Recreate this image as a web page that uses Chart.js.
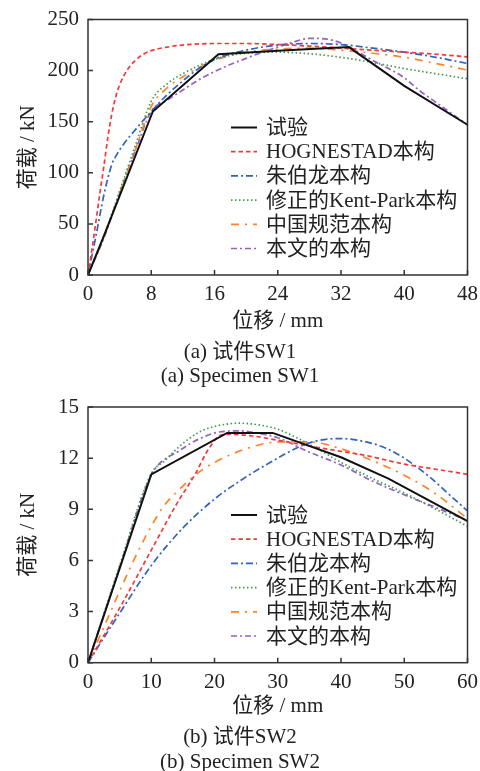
<!DOCTYPE html>
<html>
<head>
<meta charset="utf-8">
<script src="https://cdn.jsdelivr.net/npm/chart.js@4.4.1/dist/chart.umd.min.js"></script>
<style>
  body { margin: 0; background: #fff; }
  #wrap { position: relative; width: 480px; height: 771px; overflow: hidden; }
  canvas { position: absolute; left: 0; }
  .cap { position: absolute; left: 0; width: 480px; text-align: center; font-family: "Liberation Serif", "Noto Sans CJK SC", serif; font-size: 21px; color: #222; line-height: 24px; }
</style>
</head>
<body>
<div id="wrap">
  <canvas id="c1" width="480" height="340" style="top:0px"></canvas>
  <div class="cap" style="top:339px">(a) 试件SW1</div>
  <div class="cap" style="top:363px">(a) Specimen SW1</div>
  <canvas id="c2" width="480" height="340" style="top:388px"></canvas>
  <div class="cap" style="top:724px">(b) 试件SW2</div>
  <div class="cap" style="top:749px">(b) Specimen SW2</div>
</div>
<script>
// legend labels
var names = ["试验", "HOGNESTAD本构", "朱伯龙本构", "修正的Kent-Park本构", "中国规范本构", "本文的本构"];

// SW1: displacement (mm), load (kN)
var sw1Test = [[0,0],[2,38],[8.2,160],[16.5,216],[24,219.5],[33,223],[40,185],[48,147]];
var sw1Hog = [[0,0],[0.5,25],[1,52],[1.5,80],[2,106],[2.5,134],[3,157],[3.5,174],[4,186],[5,201],[6,210],[7,216],[8,219.5],[10,223],[12,225],[16,226.5],[20,226.5],[24,225.5],[28,224],[32,222],[36,220],[40,218],[44,216],[48,213.5]];
var sw1Zhu = [[0,0],[1,38],[2,78],[3,108],[3.5,116],[4.5,128],[6.3,145],[8,160],[9.7,174],[12,190],[14,202],[16,211],[20,220],[24,225],[28,226.5],[32,225.5],[36,222],[40,218],[44,213],[48,207]];
var sw1Kent = [[0,0],[2,38],[4,82],[6,127],[8,170],[10,187],[12,197],[16,211],[20,217],[24,218],[28,216.5],[32,213],[36,208],[40,202],[44,197],[48,192]];
var sw1Gb = [[0,0],[2,37],[4,80],[6,123],[8,165],[10,183],[12,194],[16,210],[20,218],[24,221],[28,222],[32,220],[36,217],[40,213],[44,207],[48,200.5]];
var sw1Ours = [[0,0],[2,36],[4,80],[6,122],[8,160],[10,171],[12,181],[14,191],[16,199],[18,206],[20,212],[22,218],[24,223],[26,228],[28,231.5],[30,231],[32,227],[34,219],[36,210],[38,202],[40,193],[42,180],[44,169],[46,158],[48,147]];

// SW2
var sw2Test = [[0,0],[10,11.05],[22,13.48],[29.2,13.48],[40,12.05],[47.5,10.8],[60,8.3]];
var sw2Hog = [[0,0],[5,3.2],[10,6.6],[14,9.3],[17,11.1],[19,12.5],[21,13.35],[22.5,13.4],[26,13.3],[30,13.05],[33,12.85],[36,12.65],[40,12.4],[44,12.15],[50,11.65],[55,11.35],[60,11.05]];
var sw2Zhu = [[0,0],[5,2.9],[10,5.7],[15,7.9],[20,9.6],[25,10.9],[30,12.0],[33,12.6],[36,13.0],[40,13.15],[44,12.95],[47,12.6],[50,12.0],[54,10.9],[57,9.9],[60,8.9]];
var sw2Kent = [[0,0],[5,5.7],[10,11.1],[12,11.8],[14.5,12.7],[17,13.4],[19,13.75],[22,14.0],[24,14.05],[27,13.95],[30,13.7],[33,13.2],[36,12.6],[40,11.75],[45,10.8],[50,9.95],[55,9.0],[60,8.0]];
var sw2Gb = [[0,0],[3,2.5],[5,4.2],[8,6.6],[10,8.0],[12,9.2],[14,10.0],[16,10.7],[18,11.3],[20,11.75],[25,12.55],[30,12.95],[35,12.95],[40,12.55],[45,11.85],[50,11.0],[55,9.9],[60,8.45]];
var sw2Ours = [[0,0],[5,5.6],[10,11.0],[14.5,12.45],[18,13.2],[21,13.55],[24,13.6],[27,13.45],[30,13.2],[35,12.35],[40,11.6],[45,10.65],[50,9.85],[55,9.1],[60,8.35]];

var colors = ["#111111", "#f23a3a", "#2e63c0", "#3f9a4f", "#ff8228", "#9462c0"];
var dashes = [[], [4.5,3], [7,3,2,3], [1.5,2.5], [8,6,2,6], [6,3,2,3]];
var serif = '"Liberation Serif", "Noto Sans CJK SC", serif';

function toXY(arr){ return arr.map(function(p){ return {x:p[0], y:p[1]}; }); }

// frame, inward tick marks and in-plot legend
var framePlugin = {
  id: 'frame',
  afterDatasetsDraw: function(chart){
    var ctx = chart.ctx, a = chart.chartArea;
    var xs = chart.scales.x, ys = chart.scales.y;
    ctx.save();
    ctx.strokeStyle = '#333';
    ctx.lineWidth = 1.5;
    ctx.strokeRect(a.left, a.top, a.right - a.left, a.bottom - a.top);
    ctx.beginPath();
    xs.ticks.forEach(function(t){
      var px = xs.getPixelForValue(t.value);
      ctx.moveTo(px, a.bottom); ctx.lineTo(px, a.bottom - 5);
    });
    ys.ticks.forEach(function(t){
      var py = ys.getPixelForValue(t.value);
      ctx.moveTo(a.left, py); ctx.lineTo(a.left + 5, py);
    });
    ctx.stroke();
    ctx.restore();
  },
  afterDraw: function(chart){
    var ctx = chart.ctx, a = chart.chartArea;
    ctx.save();
    ctx.font = '21px ' + serif;
    ctx.textBaseline = 'middle';
    ctx.fillStyle = '#222';
    chart.data.datasets.forEach(function(ds, i){
      var y = a.top + 108 + i * 24.2;
      var x0 = a.left + 143;
      ctx.beginPath();
      ctx.strokeStyle = ds.borderColor;
      ctx.lineWidth = ds.borderWidth;
      ctx.setLineDash(ds.borderDash);
      ctx.moveTo(x0, y); ctx.lineTo(x0 + 26, y);
      ctx.stroke();
      ctx.setLineDash([]);
      ctx.fillText(ds.label, x0 + 35, y + 1);
    });
    ctx.restore();
  }
};

function makeChart(id, series, xMax, xStep, yMax, yStep, padTop, xAxisH, titleGap){
  var datasets = series.map(function(s, i){
    return {
      label: names[i],
      data: toXY(s),
      borderColor: colors[i],
      borderWidth: i === 0 ? 2 : 1.7,
      borderDash: dashes[i],
      pointRadius: 0,
      fill: false,
      tension: i === 0 ? 0 : 0.4,
      cubicInterpolationMode: i === 0 ? 'default' : 'monotone'
    };
  });
  return new Chart(document.getElementById(id), {
    type: 'line',
    data: { datasets: datasets },
    options: {
      responsive: false,
      animation: false,
      layout: { padding: { top: padTop, right: 12.5, left: 0, bottom: 0 } },
      plugins: { legend: { display: false }, tooltip: { enabled: false } },
      scales: {
        x: {
          type: 'linear', min: 0, max: xMax,
          grid: { display: false }, border: { display: false },
          ticks: { stepSize: xStep, autoSkip: false, maxRotation: 0, padding: -1, color: '#222', font: { family: serif, size: 21 } },
          title: { display: true, text: '位移 / mm', color: '#222', padding: { top: 0, bottom: titleGap }, font: { family: serif, size: 21 } },
          afterFit: function(s){ s.height = xAxisH; }
        },
        y: {
          type: 'linear', min: 0, max: yMax,
          grid: { display: false }, border: { display: false },
          ticks: { stepSize: yStep, padding: 1, color: '#222', font: { family: serif, size: 21 } },
          title: { display: true, text: '荷载 / kN', color: '#222', padding: { top: 16, bottom: 0 }, font: { family: serif, size: 21 } },
          afterFit: function(s){ s.width = 88; }
        }
      }
    },
    plugins: [framePlugin]
  });
}

makeChart('c1', [sw1Test, sw1Hog, sw1Zhu, sw1Kent, sw1Gb, sw1Ours], 48, 8, 250, 50, 19.5, 65, 6);
makeChart('c2', [sw2Test, sw2Hog, sw2Zhu, sw2Kent, sw2Gb, sw2Ours], 60, 10, 15, 3, 19, 65.3, 8.7);
</script>
</body>
</html>
